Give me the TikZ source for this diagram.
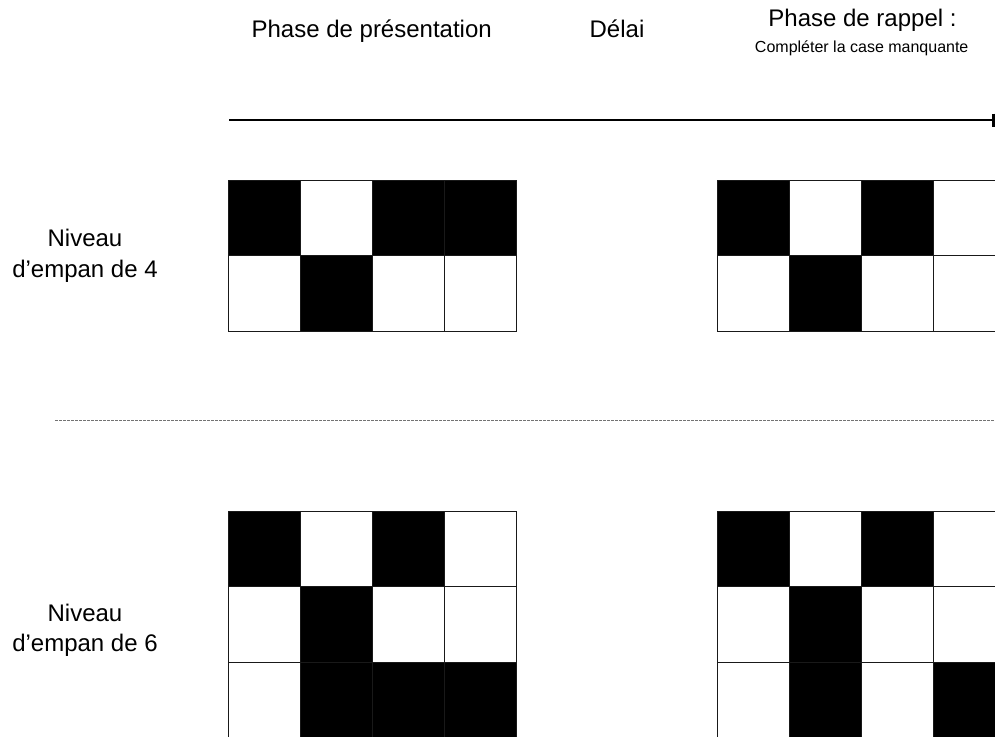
\documentclass[tikz,border=0pt]{standalone}
\usepackage{fontspec}
\setmainfont{Liberation Sans}
\usetikzlibrary{arrows.meta}

% one grid of cells: left x, top y, rows of colours
\newcommand{\grille}[3]{%
  \foreach \ligne [count=\nl from 0] in {#3}{%
    \foreach \teinte [count=\nc from 0] in \ligne{%
      \filldraw[cell, fill=\teinte] (#1+72*\nc, #2+75.2*\nl) rectangle ++(72,75.2);
    }
  }
}

\begin{document}
\begin{tikzpicture}[
    x=1pt, y=-1pt,
    font=\fontsize{24}{30.5}\selectfont,
    titre/.style={anchor=base, inner sep=0pt},
    consigne/.style={anchor=base, inner sep=0pt, font=\fontsize{16}{19}\selectfont},
    niveau/.style={align=center, inner sep=0pt},
    cell/.style={draw=black!90, line width=0.9pt},
    temps/.style={-{Bar[width=13pt, line width=2.7pt]}, line width=1.8pt},
    separ/.style={draw=black!55, line width=0.9pt, dash pattern=on 2.5pt off 1.5pt}
]
\useasboundingbox (0,0) rectangle (995,736);
\clip (0,0) rectangle (995,736);

\node[titre] (presentation) at (371.7,37.5) {Phase de présentation};
\node[titre] (delai) at (617,37.5) {Délai};
\node[titre] (rappel) at (862.5,26.5) {Phase de rappel :};
\node[consigne] (case) at (861.7,52) {Compléter la case manquante};

\node[niveau] (empan4) at (85,256) {Niveau\\d’empan de 4};
\node[niveau] (empan6) at (85,630.5) {Niveau\\d’empan de 6};

\coordinate (debut) at (229,120);
\coordinate (fin) at (995,120);
\draw[temps] (debut) -- (fin);

\coordinate (sepG) at (55,420.7);
\coordinate (sepD) at (995,420.7);
\draw[separ] (sepG) -- (sepD);

% span 4
\grille{228.5}{180.7}{{black,white,black,black},{white,black,white,white}}
\grille{717.3}{180.7}{{black,white,black,white},{white,black,white,white}}
% span 6
\grille{228.5}{511.7}{{black,white,black,white},{white,black,white,white},{white,black,black,black}}
\grille{717.3}{511.7}{{black,white,black,white},{white,black,white,white},{white,black,white,black}}
\end{tikzpicture}
\end{document}
